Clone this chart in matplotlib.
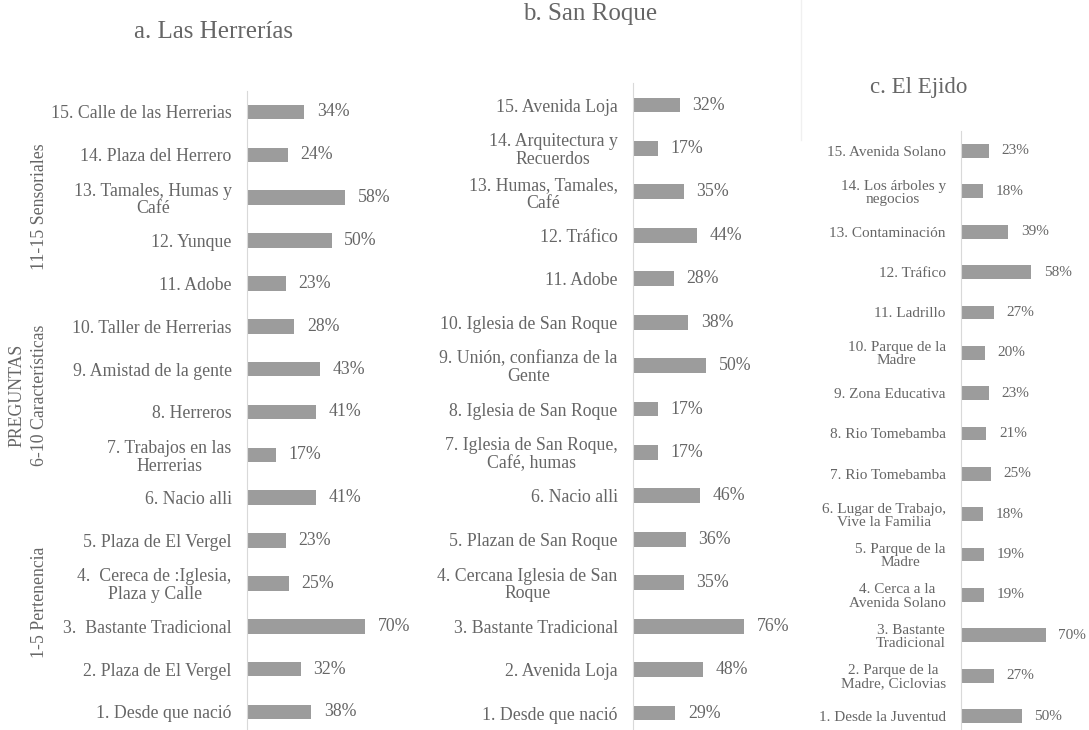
import matplotlib.pyplot as plt

plt.rcParams['font.family'] = ['Liberation Serif', 'DejaVu Serif']

W, H = 1089, 730

# datos (preguntas 1..15)
etiquetas_a = ['1. Desde que nació', '2. Plaza de El Vergel', '3.  Bastante Tradicional',
               '4.  Cereca de :Iglesia,\nPlaza y Calle', '5. Plaza de El Vergel', '6. Nacio alli',
               '7. Trabajos en las\nHerrerias', '8. Herreros', '9. Amistad de la gente',
               '10. Taller de Herrerias', '11. Adobe', '12. Yunque',
               '13. Tamales, Humas y\nCafé', '14. Plaza del Herrero', '15. Calle de las Herrerias']
valores_a = [38, 32, 70, 25, 23, 41, 17, 41, 43, 28, 23, 50, 58, 24, 34]

etiquetas_b = ['1. Desde que nació', '2. Avenida Loja', '3. Bastante Tradicional',
               '4. Cercana Iglesia de San\nRoque', '5. Plazan de San Roque', '6. Nacio alli',
               '7. Iglesia de San Roque,\nCafé, humas', '8. Iglesia de San Roque',
               '9. Unión, confianza de la\nGente', '10. Iglesia de San Roque', '11. Adobe',
               '12. Tráfico', '13. Humas, Tamales,\nCafé', '14. Arquitectura y\nRecuerdos',
               '15. Avenida Loja']
valores_b = [29, 48, 76, 35, 36, 46, 17, 17, 50, 38, 28, 44, 35, 17, 32]

etiquetas_c = ['1. Desde la Juventud', '2. Parque de la\nMadre, Ciclovias', '3. Bastante\nTradicional',
               '4. Cerca a la\nAvenida Solano', '5. Parque de la\nMadre', '6. Lugar de Trabajo,\nVive la Familia',
               '7. Rio Tomebamba', '8. Rio Tomebamba', '9. Zona Educativa', '10. Parque de la\nMadre',
               '11. Ladrillo', '12. Tráfico', '13. Contaminación', '14. Los árboles y\nnegocios',
               '15. Avenida Solano']
valores_c = [50, 27, 70, 19, 19, 18, 25, 21, 23, 20, 27, 58, 39, 18, 23]

texto = '#666666'
barra = '#9c9c9c'

fig = plt.figure(figsize=(W / 100, H / 100), dpi=100)


def panel(x0, px_pct, y1, y15, etiquetas, valores, titulo, tx, ty, tsize, fsize, interlinea):
    paso = (y1 - y15) / 14
    top = y15 - paso / 2
    bottom = y1 + paso / 2
    ancho = 100 * px_pct
    ax = fig.add_axes([x0 / W, 1 - bottom / H, ancho / W, (bottom - top) / H])
    pos = list(range(1, 16))
    ax.barh(pos, valores, height=0.34, color=barra)
    ax.set_xlim(0, 100)
    ax.set_ylim(0.5, 15.5)
    ax.set_yticks(pos)
    ax.set_yticklabels(etiquetas, fontsize=fsize, color=texto)
    for lab in ax.get_yticklabels():
        lab.set_multialignment('center')
        lab.set_linespacing(interlinea)
    ax.tick_params(axis='y', length=0, pad=11)
    ax.set_xticks([])
    for s in ['top', 'right', 'bottom']:
        ax.spines[s].set_visible(False)
    ax.spines['left'].set_color('#d9d9d9')
    ax.patch.set_alpha(0)
    for p, v in zip(pos, valores):
        ax.annotate(f'{v}%', (v, p), xytext=(9, 0), textcoords='offset points',
                    va='center', ha='left', fontsize=fsize, color=texto)
    fig.text(tx / W, 1 - ty / H, titulo, ha='center', va='center', fontsize=tsize, color=texto)
    return ax


panel(247, 1.69, 712, 112, etiquetas_a, valores_a, 'a. Las Herrerías', 214, 32, 18, 12.8, 1.05)
panel(633, 1.46, 713, 105, etiquetas_b, valores_b, 'b. San Roque', 590, 14, 18, 12.8, 1.05)
panel(961, 1.21, 716, 151, etiquetas_c, valores_c, 'c. El Ejido', 919, 88, 16.5, 11, 1.02)

# etiquetas de grupos a la izquierda
fig.text(17 / W, 1 - 395 / H, 'PREGUNTAS', rotation=90, ha='center', va='center', fontsize=12.8, color=texto)
fig.text(40 / W, 1 - 207 / H, '11-15 Sensoriales', rotation=90, ha='center', va='center', fontsize=12.8, color=texto)
fig.text(40 / W, 1 - 395 / H, '6-10 Características', rotation=90, ha='center', va='center', fontsize=12.8, color=texto)
fig.text(40 / W, 1 - 602 / H, '1-5 Pertenencia', rotation=90, ha='center', va='center', fontsize=12.8, color=texto)

# linea tenue separando paneles b y c
fig.add_artist(plt.Line2D([801 / W, 801 / W], [1, 1 - 140 / H], color='#f0f0f0', lw=1))

fig.savefig('out.png', dpi=100)
